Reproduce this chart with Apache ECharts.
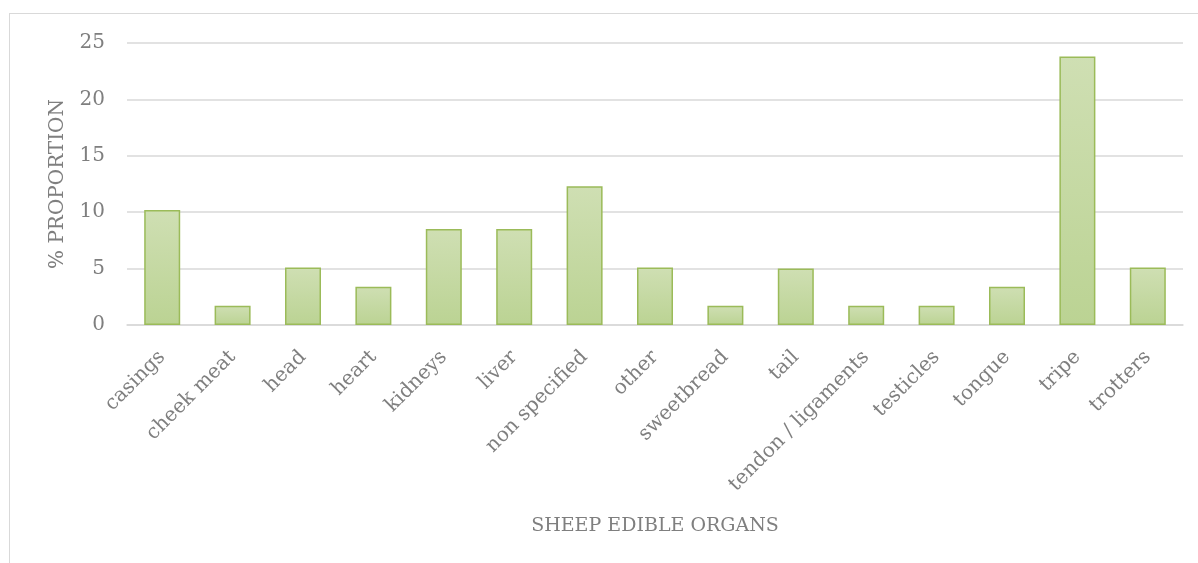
<!DOCTYPE html>
<html><head><meta charset="utf-8">
<script src="https://cdn.jsdelivr.net/npm/echarts@6/dist/echarts.min.js"></script>
<style>html,body{margin:0;padding:0;background:#fff}#c{width:1198px;height:563px;position:relative;overflow:hidden}
#frame{position:absolute;left:9px;top:13px;width:1300px;height:700px;border:1.5px solid #d9d9d9;box-sizing:border-box}</style>
</head><body><div id="c"><div id="frame"></div><div id="chart" style="position:absolute;left:0;top:0;width:1198px;height:563px"></div></div>
<script>
const categories = ["casings","cheek meat","head","heart","kidneys","liver","non specified","other","sweetbread","tail","tendon / ligaments","testicles","tongue","tripe","trotters"];
const values = [10.2,1.7,5.1,3.4,8.5,8.5,12.3,5.1,1.7,5.0,1.7,1.7,3.4,23.8,5.1];
const yTicks = [0,5,10,15,20,25];
const font = "DejaVu Serif";
const chart = echarts.init(document.getElementById('chart'));
chart.setOption({
  animation:false,
  grid:{left:127,right:15,top:43,bottom:238},
  xAxis:{type:'category',data:categories,
    name:'SHEEP EDIBLE ORGANS',nameLocation:'middle',nameGap:192,
    nameTextStyle:{fontFamily:font,fontSize:19,color:'#7f7f7f'},
    axisLine:{show:true,lineStyle:{color:'#d9d9d9',width:1.5}},axisTick:{show:false},
    axisLabel:{rotate:45,interval:0,fontFamily:font,fontSize:20,color:'#7f7f7f',margin:29}},
  yAxis:{type:'value',min:yTicks[0],max:yTicks[yTicks.length-1],interval:5,
    name:'% PROPORTION',nameLocation:'middle',nameGap:59,
    nameTextStyle:{fontFamily:font,fontSize:20,color:'#7f7f7f'},
    axisLine:{show:false},axisTick:{show:false},
    axisLabel:{fontFamily:font,fontSize:20,color:'#7f7f7f',margin:22},
    splitLine:{lineStyle:{color:'#d9d9d9',width:1.5}}},
  series:[{type:'bar',data:values,barWidth:36,
    itemStyle:{borderColor:'#9bbb59',borderWidth:1.5,
      color:new echarts.graphic.LinearGradient(0,0,0,1,[{offset:0,color:'#cfdfb3'},{offset:1,color:'#bbd393'}])}}]
});
</script></body></html>
